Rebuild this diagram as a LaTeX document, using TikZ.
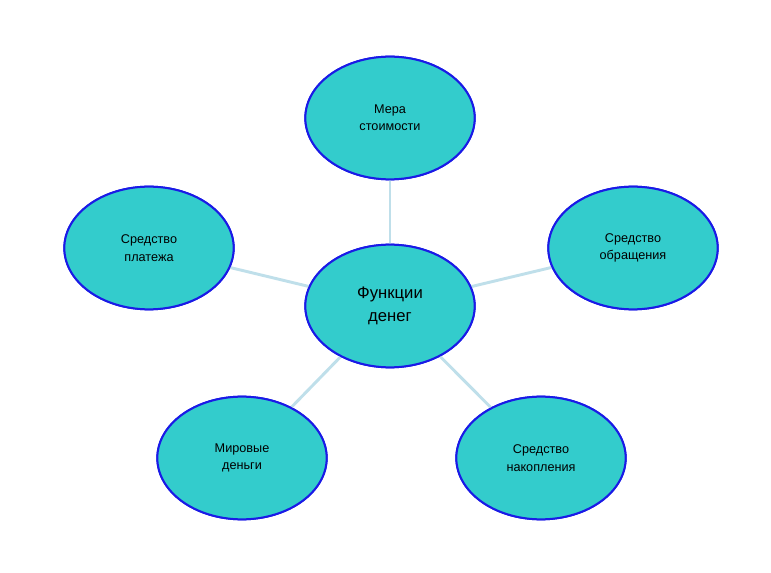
\documentclass[tikz,border=0pt]{standalone}
\usepackage{fontspec}
\setmainfont{Liberation Sans}
\usetikzlibrary{shapes.geometric}
\definecolor{fillc}{HTML}{33CCCC}
\definecolor{edgec}{HTML}{1A1AE6}
\definecolor{linec}{HTML}{BFDFEA}
\begin{document}
\begin{tikzpicture}[x=0.75pt,y=-0.75pt,
  bub/.style={ellipse,draw=edgec,fill=fillc,line width=1.5pt,minimum width=127pt,minimum height=92pt,align=center,font=\fontsize{9.5}{13}\selectfont,inner sep=0pt},
  conn/.style={draw=linec,line width=2.2pt}]
\useasboundingbox (0,0) rectangle (771,573);
\node[bub,font=\fontsize{12.5}{17}\selectfont] (c) at (390,306) {Функции\\денег};
\node[bub] (t) at (390,118) {Мера\\стоимости};
\node[bub] (l) at (149,248) {Средство\\платежа};
\node[bub] (r) at (633,248) {Средство\\обращения};
\node[bub] (bl) at (242,458) {Мировые\\деньги};
\node[bub] (br) at (541,458) {Средство\\накопления};
\begin{scope}[on background layer/.style={}]
\end{scope}
\foreach \n in {t,l,r,bl,br} \draw[conn] (c) -- (\n);
\foreach \n/\txt in {c/{Функции\\денег}} {}
\node[bub,font=\fontsize{12.5}{17}\selectfont] at (390,306) {Функции\\денег};
\node[bub] at (390,118) {Мера\\стоимости};
\node[bub] at (149,248) {Средство\\платежа};
\node[bub] at (633,248) {Средство\\обращения};
\node[bub] at (242,458) {Мировые\\деньги};
\node[bub] at (541,458) {Средство\\накопления};
\end{tikzpicture}
\end{document}
